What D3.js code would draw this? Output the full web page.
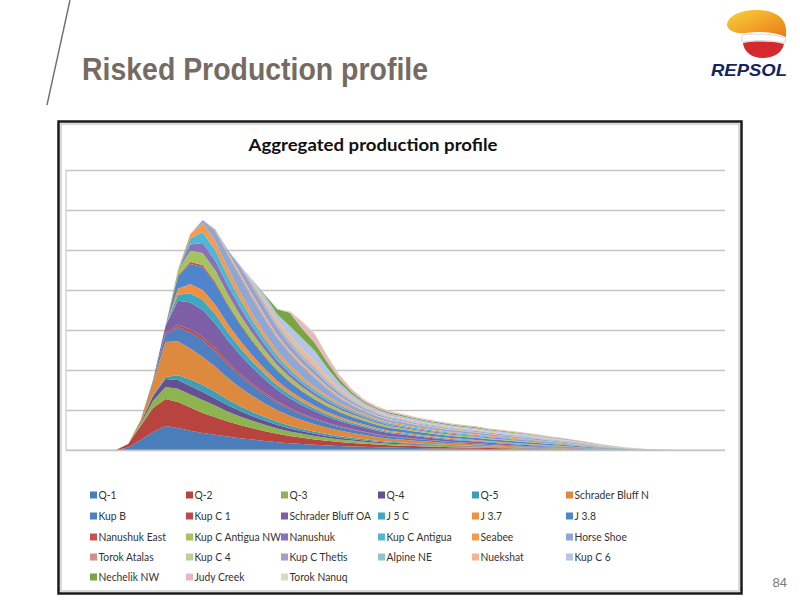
<!DOCTYPE html>
<html><head><meta charset="utf-8">
<script src="https://cdn.jsdelivr.net/npm/d3@7"></script>
<style>body{margin:0;background:#fff}svg{display:block}</style></head>
<body><svg id="c" width="800" height="600"></svg>
<script>
const periods = [2015,2016,2017,2018,2019,2020,2021,2022,2023,2024,2025,2026,2027,2028,2029,2030,2031,2032,2033,2034,2035,2036,2037,2038,2039,2040,2041,2042,2043,2044,2045,2046,2047,2048,2049,2050,2051,2052,2053,2054,2055,2056,2057,2058,2059,2060,2061,2062,2063,2064,2065,2066,2067,2068];
const gridTicks = [0,10,20,30,40,50,60,70];
const seriesNames = ["Q-1","Q-2","Q-3","Q-4","Q-5","Schrader Bluff N","Kup B","Kup C 1","Schrader Bluff OA","J 5 C","J 3.7","J 3.8","Nanushuk East","Kup C Antigua NW","Nanushuk","Kup C Antigua","Seabee","Horse Shoe","Torok Atalas","Kup C 4","Kup C Thetis","Alpine NE","Nuekshat","Kup C 6","Nechelik NW","Judy Creek","Torok Nanuq"];
const seriesColors = ["#4a7ebb","#b8433f","#8db44e","#66508f","#3f9db5","#dd8a3e","#4f7fc0","#c04848","#7d5fa8","#3ea8c3","#ef9140","#4e85cc","#cc5050","#a6c45e","#8a72b8","#4fb8d6","#f89a4e","#8ea8d6","#d48e8c","#bccf98","#a59cc8","#8ec2d6","#f5b591","#b4c6e6","#79a545","#e5b9bd","#d8dcc2"];

const q1 = [0,0,0,0,0, 0.6,2.5,4.5,6,5.5,4.8,4.25, 3.8,3.35,2.95,2.6,2.25,1.95,1.7,1.5,1.3,1.15,1.0,0.9,0.8, 0.69,0.6,0.55,0.5,0.45,0.4,0.36,0.33,0.3,0.26,0.23,0.2,0.18,0.15,0.13,0.1,0.08,0.06,0.04,0.02,0.02,0.01,0,0,0, 0,0,0,0];
const q2 = [0,0,0,0,0, 0.9,3.5,6,6.75,6.5,5.8,5, 4.4,3.8,3.3,2.85,2.45,2.1,1.8,1.55,1.35,1.15,1.0,0.88,0.78, 0.67,0.59,0.54,0.48,0.44,0.39,0.35,0.32,0.29,0.26,0.23,0.2,0.17,0.15,0.12,0.1,0.08,0.05,0.04,0.02,0.02,0.01,0,0,0, 0,0,0,0];
const q3 = [0,0,0,0,0, 0,0.5,1.8,3,3.3,3.3,3.25, 2.9,2.5,2.15,1.85,1.6,1.35,1.15,1.0,0.87,0.75,0.65,0.57,0.5, 0.43,0.38,0.35,0.31,0.28,0.25,0.23,0.21,0.19,0.17,0.15,0.13,0.11,0.1,0.08,0.07,0.05,0.04,0.03,0.02,0.01,0.01,0,0,0, 0,0,0,0];
const q4 = [0,0,0,0,0, 0,0.3,1.2,2,2.2,2.1,2, 1.8,1.55,1.35,1.15,1.0,0.85,0.73,0.63,0.55,0.47,0.41,0.36,0.32, 0.28,0.24,0.22,0.2,0.18,0.16,0.14,0.13,0.12,0.11,0.09,0.08,0.07,0.06,0.05,0.04,0.03,0.02,0.02,0.01,0.01,0,0,0,0, 0,0,0,0];
const q5 = [0,0,0,0,0, 0,0,0.3,0.5,1.2,1.6,1.75, 1.65,1.45,1.25,1.08,0.93,0.8,0.69,0.6,0.52,0.45,0.39,0.34,0.3, 0.26,0.23,0.21,0.19,0.17,0.15,0.14,0.12,0.11,0.1,0.09,0.08,0.07,0.06,0.05,0.04,0.03,0.02,0.02,0.01,0.01,0,0,0,0, 0,0,0,0];
const schraderBluffN = [0,0,0,0,0, 0,0.7,3.2,8.75,8.5,7.8,7, 6.3,5.4,4.65,4.0,3.4,2.9,2.5,2.15,1.85,1.6,1.4,1.22,1.07, 0.92,0.8,0.74,0.66,0.6,0.54,0.48,0.44,0.4,0.35,0.31,0.27,0.24,0.2,0.17,0.14,0.11,0.07,0.05,0.03,0.02,0.01,0,0,0, 0,0,0,0];
const kupB = [0,0,0,0,0, 0,0,0.5,2,3.5,4,4.25, 3.9,3.4,2.95,2.55,2.2,1.88,1.62,1.4,1.2,1.04,0.9,0.79,0.69, 0.59,0.52,0.48,0.43,0.39,0.35,0.31,0.28,0.26,0.23,0.2,0.17,0.15,0.13,0.11,0.09,0.07,0.05,0.03,0.02,0.01,0.01,0,0,0, 0,0,0,0];
const kupC1 = [0,0,0,0,0, 0,0,0,0.3,0.6,0.7,0.75, 0.7,0.62,0.54,0.47,0.41,0.35,0.3,0.26,0.23,0.2,0.17,0.15,0.13, 0.11,0.1,0.09,0.08,0.07,0.07,0.06,0.05,0.05,0.04,0.04,0.03,0.03,0.02,0.02,0.02,0.01,0.01,0.01,0,0,0,0,0,0, 0,0,0,0];
const schraderBluffOA = [0,0,0,0,0, 0,0,0,1.7,6,6.8,6.75, 6.2,5.4,4.65,4.0,3.4,2.85,2.45,2.1,1.8,1.55,1.35,1.17,1.02, 0.88,0.77,0.7,0.63,0.57,0.51,0.46,0.42,0.38,0.34,0.3,0.26,0.22,0.19,0.16,0.13,0.1,0.07,0.05,0.03,0.02,0.01,0,0,0, 0,0,0,0];
const j5c = [0,0,0,0,0, 0,0,0,0,1.5,2.3,2.5, 2.35,2.05,1.78,1.53,1.3,1.1,0.94,0.8,0.69,0.59,0.51,0.44,0.38, 0.33,0.3,0.29,0.27,0.25,0.24,0.22,0.22,0.21,0.19,0.19,0.18,0.17,0.16,0.14,0.13,0.11,0.09,0.06,0.05,0.03,0.02,0.01,0.01,0, 0,0,0,0];
const j37 = [0,0,0,0,0, 0,0,0,0,1.5,2.3,2.5, 2.35,2.05,1.78,1.53,1.3,1.1,0.94,0.8,0.69,0.59,0.51,0.44,0.38, 0.34,0.3,0.28,0.26,0.25,0.23,0.22,0.21,0.2,0.19,0.18,0.17,0.16,0.15,0.14,0.12,0.1,0.08,0.06,0.05,0.03,0.02,0.01,0.01,0, 0,0,0,0];
const j38 = [0,0,0,0,0, 0,0,0,0,3,5,5.75, 5.3,4.6,3.95,3.4,2.9,2.45,2.1,1.8,1.55,1.33,1.15,1.0,0.87, 0.77,0.69,0.65,0.61,0.57,0.54,0.51,0.5,0.48,0.44,0.43,0.41,0.38,0.36,0.31,0.29,0.24,0.2,0.15,0.11,0.07,0.04,0.03,0.01,0.01, 0,0,0,0];
const nanushukEast = [0,0,0,0,0, 0,0,0,0,0.3,0.5,0.5, 0.47,0.42,0.36,0.31,0.27,0.23,0.2,0.17,0.15,0.13,0.11,0.1,0.09, 0.08,0.07,0.07,0.06,0.06,0.06,0.05,0.05,0.05,0.05,0.04,0.04,0.04,0.04,0.03,0.03,0.03,0.02,0.02,0.01,0.01,0,0,0,0, 0,0,0,0];
const kupCAntiguaNW = [0,0,0,0,0, 0,0,0,0,1.4,2.8,3, 2.8,2.45,2.1,1.8,1.53,1.3,1.1,0.95,0.82,0.7,0.61,0.53,0.46, 0.4,0.36,0.35,0.32,0.3,0.29,0.27,0.26,0.25,0.23,0.23,0.22,0.2,0.19,0.17,0.15,0.13,0.11,0.08,0.06,0.04,0.02,0.01,0.01,0, 0,0,0,0];
const nanushuk = [0,0,0,0,0, 0,0,0,0,0,1.6,2.5, 2.45,2.2,1.9,1.62,1.38,1.16,0.98,0.84,0.72,0.62,0.53,0.46,0.4, 0.35,0.32,0.3,0.28,0.26,0.25,0.24,0.23,0.22,0.2,0.2,0.19,0.18,0.16,0.14,0.13,0.11,0.09,0.07,0.05,0.03,0.02,0.01,0.01,0, 0,0,0,0];
const kupCAntigua = [0,0,0,0,0, 0,0,0,0,0,1.5,2.75, 2.65,2.35,2.03,1.73,1.47,1.24,1.05,0.9,0.77,0.66,0.57,0.49,0.43, 0.38,0.34,0.32,0.3,0.28,0.27,0.25,0.25,0.24,0.22,0.21,0.2,0.19,0.18,0.15,0.14,0.12,0.1,0.07,0.06,0.03,0.02,0.01,0.01,0, 0,0,0,0];
const seabee = [0,0,0,0,0, 0,0,0,0,0,1.1,2.25, 2.25,2.0,1.75,1.5,1.28,1.08,0.92,0.79,0.68,0.58,0.5,0.43,0.37, 0.33,0.29,0.28,0.26,0.24,0.23,0.22,0.21,0.2,0.19,0.18,0.17,0.16,0.15,0.13,0.12,0.1,0.09,0.06,0.05,0.03,0.02,0.01,0.01,0, 0,0,0,0];
const horseShoe = [0,0,0,0,0, 0,0,0,0,0,0,0.75, 2.4,3.2,3.8,3.8,3.5,3.1,2.8,2.5,2.2,1.7,1.2,0.9,0.7, 0.62,0.55,0.53,0.49,0.46,0.43,0.41,0.4,0.39,0.36,0.34,0.33,0.31,0.29,0.25,0.23,0.2,0.16,0.12,0.09,0.06,0.04,0.02,0.01,0.01, 0,0,0,0];
const torokAtalas = [0,0,0,0,0, 0,0,0,0,0,0,0, 0.3,0.4,0.5,0.5,0.5,0.45,0.45,0.4,0.4,0.3,0.25,0.2,0.15, 0.13,0.12,0.11,0.11,0.1,0.09,0.09,0.09,0.08,0.08,0.07,0.07,0.07,0.06,0.05,0.05,0.04,0.03,0.03,0.02,0.01,0.01,0,0,0, 0,0,0,0];
const kupC4 = [0,0,0,0,0, 0,0,0,0,0,0,0, 0.3,0.4,0.5,0.5,0.5,0.45,0.4,0.4,0.35,0.3,0.25,0.2,0.15, 0.13,0.12,0.11,0.1,0.1,0.09,0.09,0.08,0.08,0.08,0.07,0.07,0.06,0.06,0.05,0.05,0.04,0.03,0.03,0.02,0.01,0.01,0,0,0, 0,0,0,0];
const kupCThetis = [0,0,0,0,0, 0,0,0,0,0,0,0, 0,0.5,1.5,2.0,2.0,1.8,1.6,1.4,1.2,0.9,0.7,0.5,0.4, 0.35,0.32,0.3,0.28,0.26,0.25,0.24,0.23,0.22,0.2,0.2,0.19,0.18,0.16,0.14,0.13,0.11,0.09,0.07,0.05,0.03,0.02,0.01,0.01,0, 0,0,0,0];
const alpineNE = [0,0,0,0,0, 0,0,0,0,0,0,0, 0,0,0.45,0.7,0.9,0.9,0.9,0.9,0.85,0.7,0.5,0.4,0.3, 0.26,0.24,0.23,0.21,0.2,0.19,0.18,0.17,0.17,0.15,0.15,0.14,0.13,0.12,0.11,0.1,0.08,0.07,0.05,0.04,0.02,0.02,0.01,0,0, 0,0,0,0];
const nuekshat = [0,0,0,0,0, 0,0,0,0,0,0,0, 0,0,0,0.5,0.9,1.1,1.3,1.3,1.3,1.0,0.7,0.5,0.35, 0.31,0.28,0.26,0.25,0.23,0.22,0.21,0.2,0.19,0.18,0.17,0.16,0.15,0.14,0.13,0.12,0.1,0.08,0.06,0.05,0.03,0.02,0.01,0.01,0, 0,0,0,0];
const kupC6 = [0,0,0,0,0, 0,0,0,0,0,0,0, 0,0,0,0.5,1.2,1.4,2.4,2.8,2.8,2.1,1.4,0.95,0.65, 0.57,0.51,0.49,0.46,0.43,0.4,0.38,0.37,0.36,0.33,0.32,0.31,0.29,0.27,0.23,0.21,0.18,0.15,0.11,0.08,0.05,0.03,0.02,0.01,0.01, 0,0,0,0];
const nechelikNW = [0,0,0,0,0, 0,0,0,0,0,0,0, 0,0,0,0,0.25,1.3,3.3,2.4,2.0,1.5,0.9,0.6,0.4, 0.35,0.32,0.3,0.28,0.26,0.25,0.24,0.23,0.22,0.2,0.2,0.19,0.18,0.16,0.14,0.13,0.11,0.09,0.07,0.05,0.03,0.02,0.01,0.01,0, 0,0,0,0];
const judyCreek = [0,0,0,0,0, 0,0,0,0,0,0,0, 0,0,0,0,0,0,0.3,1.6,2.1,1.5,1.0,0.65,0.45, 0.4,0.36,0.34,0.32,0.3,0.28,0.27,0.26,0.25,0.23,0.22,0.21,0.2,0.18,0.16,0.15,0.13,0.1,0.08,0.06,0.04,0.02,0.01,0.01,0, 0,0,0,0];
const torokNanuq = [0,0,0,0,0, 0,0,0,0,0,0,0, 0,0,0,0,0,0,0.15,0.3,0.3,0.2,0.1,0.1,0.05, 0.04,0.04,0.04,0.04,0.03,0.03,0.03,0.03,0.03,0.03,0.02,0.02,0.02,0.02,0.02,0.02,0.01,0.01,0.01,0.01,0,0,0,0,0, 0,0,0,0];

const seriesValues = [q1,q2,q3,q4,q5,schraderBluffN,kupB,kupC1,schraderBluffOA,j5c,j37,j38,nanushukEast,kupCAntiguaNW,nanushuk,kupCAntigua,seabee,horseShoe,torokAtalas,kupC4,kupCThetis,alpineNE,nuekshat,kupC6,nechelikNW,judyCreek,torokNanuq];

const svg = d3.select('#c');
const defs = svg.append('defs');
const lg = defs.append('linearGradient').attr('id','lg').attr('x1','0').attr('y1','0').attr('x2','1').attr('y2','1');
lg.append('stop').attr('offset','0%').attr('stop-color','#f9d23c');
lg.append('stop').attr('offset','100%').attr('stop-color','#ec7a18');

// slide decorations
svg.append('line').attr('x1',70).attr('y1',0).attr('x2',47).attr('y2',105).attr('stroke','#6d6d6d').attr('stroke-width',1.4);
svg.append('text').attr('x',82).attr('y',80).text('Risked Production profile')
  .attr('font-family','Liberation Sans, Arial, sans-serif').attr('font-weight','bold').attr('font-size',31)
  .attr('fill','#756b63').attr('textLength',346).attr('lengthAdjust','spacingAndGlyphs');

const logo = svg.append('g');
logo.append('path').attr('d','M727,25 C728,14 744,9 760,10 C778,11 787,20 786,32 L786,37 C775,32 760,31 746,33 C736,34 728,31 727,25 Z').attr('fill','url(#lg)');
logo.append('path').attr('d','M742,35 C757,33 773,34 786,38 L785,43 C771,40 756,40 742,42 Z').attr('fill','#fff').attr('stroke','#c9c9c9').attr('stroke-width',0.7);
logo.append('path').attr('d','M743,43 C756,41 771,41 784,44 C782,53 773,58 763,58 C752,58 744,52 743,43 Z').attr('fill','#d42a2e');
svg.append('text').attr('x',711).attr('y',76).text('REPSOL')
  .attr('font-family','Liberation Sans, Arial, sans-serif').attr('font-weight','bold').attr('font-style','italic')
  .attr('font-size',17).attr('fill','#14245e').attr('textLength',76).attr('lengthAdjust','spacingAndGlyphs');
svg.append('text').attr('x',787).attr('y',587).attr('text-anchor','end').text('84')
  .attr('font-family','Liberation Sans, Arial, sans-serif').attr('font-size',13).attr('fill','#7a7a7a');

// chart frame
svg.append('rect').attr('x',58.5).attr('y',121.5).attr('width',683).attr('height',472).attr('fill','#fff').attr('stroke','#1a1a1a').attr('stroke-width',2.5);
svg.append('rect').attr('x',61).attr('y',124).attr('width',678).attr('height',467).attr('fill','none').attr('stroke','#b5b5b5').attr('stroke-width',1);

svg.append('text').attr('x',373).attr('y',151).attr('text-anchor','middle').text('Aggregated production profile')
  .attr('font-family','Lato, "Open Sans", sans-serif').attr('font-weight','bold').attr('font-size',17).attr('fill','#111')
  .attr('textLength',249).attr('lengthAdjust','spacingAndGlyphs');

const x = d3.scaleLinear().domain([0, periods.length - 1]).range([66, 725]);
const y = d3.scaleLinear().domain([0, 70]).range([450, 170]);

// gridlines
const grid = svg.append('g').attr('transform','translate(66,0)')
  .call(d3.axisLeft(y).tickValues(gridTicks).tickSize(-659).tickFormat(''));
grid.select('.domain').remove();
grid.selectAll('.tick line').attr('stroke','#c4c4c4').attr('stroke-width',1.6);
svg.append('line').attr('x1',66).attr('x2',66).attr('y1',170).attr('y2',450).attr('stroke','#c8c8c8').attr('stroke-width',1.2);

const rows = periods.map((p, i) => {
  const o = { i };
  seriesNames.forEach((n, k) => { o[n] = seriesValues[k][i] || 0; });
  return o;
});
const stacked = d3.stack().keys(seriesNames)(rows);
const area = d3.area().x(d => x(d.data.i)).y0(d => y(d[0])).y1(d => y(d[1]));
svg.append('g').selectAll('path').data(stacked).join('path')
  .attr('d', area).attr('fill', (d, k) => seriesColors[k]);

svg.append('line').attr('x1',66).attr('x2',725).attr('y1',450).attr('y2',450).attr('stroke','#c4c4c4').attr('stroke-width',1.2);

// legend
const colX = [90, 186, 281, 378, 472, 566];
const rowY = [495, 516, 537, 557, 577];
const leg = svg.append('g');
seriesNames.forEach((n, k) => {
  const cx = colX[k % 6], cy = rowY[Math.floor(k / 6)];
  leg.append('rect').attr('x', cx).attr('y', cy - 3.5).attr('width', 7).attr('height', 7).attr('fill', seriesColors[k]);
  leg.append('text').attr('transform', `translate(${cx + 8.5},${cy + 4}) scale(0.86,1)`).text(n)
    .attr('font-family','Lato, "Open Sans", sans-serif').attr('font-size', 12).attr('fill', '#333');
});
</script></body></html>
